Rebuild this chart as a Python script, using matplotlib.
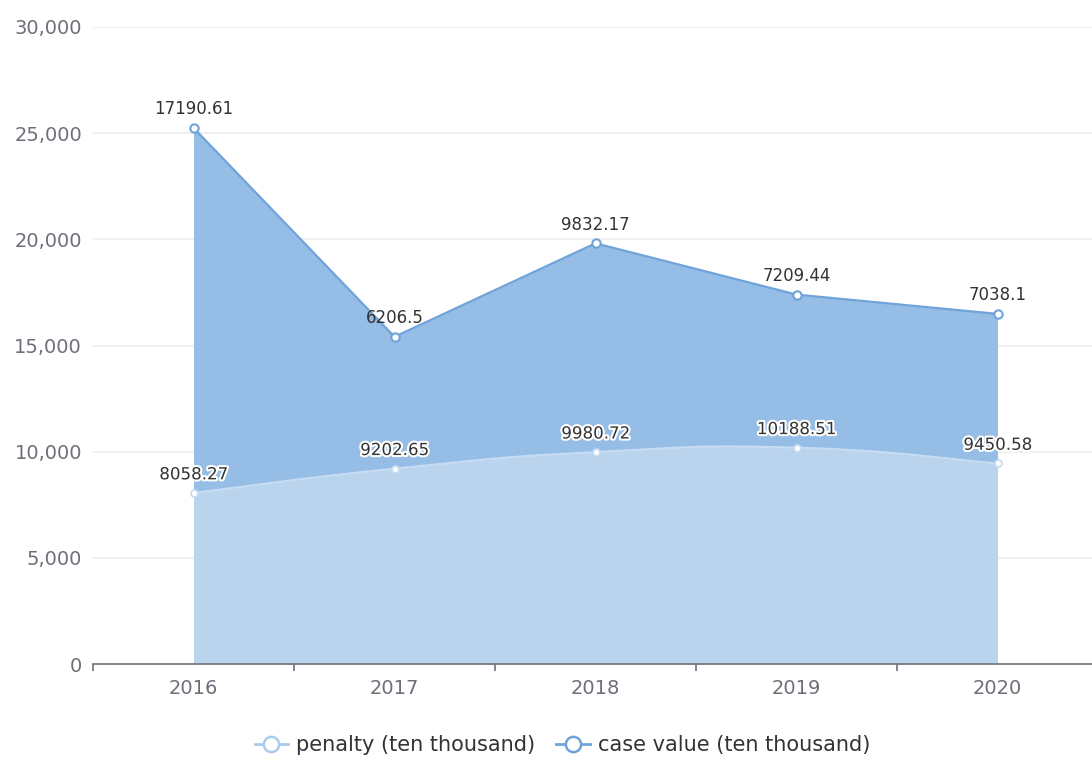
import numpy as np
import matplotlib.pyplot as plt
import matplotlib.patheffects as pe
from matplotlib.lines import Line2D

years = ["2016", "2017", "2018", "2019", "2020"]
penalty = [8058.27, 9202.65, 9980.72, 10188.51, 9450.58]
case_value = [17190.61, 6206.5, 9832.17, 7209.44, 7038.1]


def smooth_curve(x, y, n=40, k=0.5):
    """Cubic bezier through the points, roughly like the echarts 'smooth' line."""
    x = np.asarray(x, float)
    y = np.asarray(y, float)
    xs, ys = [], []
    for i in range(len(x) - 1):
        p0 = np.array([x[i], y[i]])
        p3 = np.array([x[i + 1], y[i + 1]])
        prev = np.array([x[i - 1], y[i - 1]]) if i > 0 else p0
        nxt = np.array([x[i + 2], y[i + 2]]) if i + 2 < len(x) else p3
        p1 = p0 + (p3 - prev) * k / 2
        p2 = p3 - (nxt - p0) * k / 2
        t = np.linspace(0, 1, n)[:, None]
        pts = ((1 - t) ** 3) * p0 + 3 * ((1 - t) ** 2) * t * p1 + 3 * (1 - t) * t ** 2 * p2 + t ** 3 * p3
        xs.append(pts[:, 0])
        ys.append(pts[:, 1])
    return np.concatenate(xs), np.concatenate(ys)


plt.rcParams['font.family'] = ['DejaVu Sans']

x = np.arange(len(years))
pen = np.array(penalty)
top = pen + np.array(case_value)

fig = plt.figure(figsize=(10.92, 7.57), dpi=100)
ax = fig.add_axes([93 / 1092, 93 / 757, 1005 / 1092, 637 / 757])

c_pen_fill = "#bad4ee"
c_pen_line = "#c6dcf3"
c_pen_legend = "#a9cbef"
c_case_fill = "#95bde6"
c_case_line = "#6fa3da"

sx, sy = smooth_curve(x, pen)
# case value area stacked on top of penalty (straight top edge)
top_on_sx = np.interp(sx, x, top)
ax.fill_between(sx, sy, top_on_sx, color=c_case_fill, lw=0, zorder=2)
ax.fill_between(sx, 0, sy, color=c_pen_fill, lw=0, zorder=2)

ax.plot(sx, sy, color=c_pen_line, lw=1.5, zorder=3)
ax.plot(x, top, color=c_case_line, lw=1.6, zorder=3)
ax.plot(x, pen, 'o', ms=5, mfc="white", mec=c_pen_line, mew=1.3, zorder=4)
ax.plot(x, top, 'o', ms=6, mfc="white", mec=c_case_line, mew=1.5, zorder=4)

stroke = [pe.withStroke(linewidth=3, foreground="white")]
for xi, v, t in zip(x, penalty, pen):
    ax.text(xi, t + 450, f"{v}", ha="center", va="bottom", fontsize=12,
            color="#333333", path_effects=stroke, zorder=5)
for xi, v, t in zip(x, case_value, top):
    ax.text(xi, t + 450, f"{v}", ha="center", va="bottom", fontsize=12,
            color="#333333", zorder=5)

ax.set_xlim(-0.5, len(years) - 0.5)
ax.set_ylim(0, 30000)
ax.set_yticks(range(0, 30001, 5000))
ax.set_yticklabels([f"{v:,}" for v in range(0, 30001, 5000)])
ax.grid(axis="y", color="#eeeeee", lw=1.2, zorder=0)
ax.set_axisbelow(True)

ax.set_xticks(x)
ax.set_xticklabels(years)
ax.set_xticks(np.arange(-0.5, len(years)), minor=True)
ax.tick_params(axis="x", which="major", length=0, pad=11, labelsize=14, labelcolor="#6e7079")
ax.tick_params(axis="x", which="minor", length=5, color="#6e7079", width=1.2)
ax.tick_params(axis="y", length=0, pad=8, labelsize=14, labelcolor="#6e7079")
for s in ["top", "right", "left"]:
    ax.spines[s].set_visible(False)
ax.spines["bottom"].set_color("#6e7079")
ax.spines["bottom"].set_linewidth(1.2)

handles = [
    Line2D([0], [0], color=c_pen_legend, lw=2, marker="o", ms=11, mfc="white", mec=c_pen_legend, mew=1.8),
    Line2D([0], [0], color=c_case_line, lw=2, marker="o", ms=11, mfc="white", mec=c_case_line, mew=1.8),
]
fig.legend(handles, ["penalty (ten thousand)", "case value (ten thousand)"],
           loc="center", bbox_to_anchor=(0.515, 12 / 757), ncol=2,
           frameon=False, fontsize=15, handlelength=1.6, columnspacing=1.0,
           handletextpad=0.4, labelcolor="#333333")

fig.savefig("out.png", dpi=100)
